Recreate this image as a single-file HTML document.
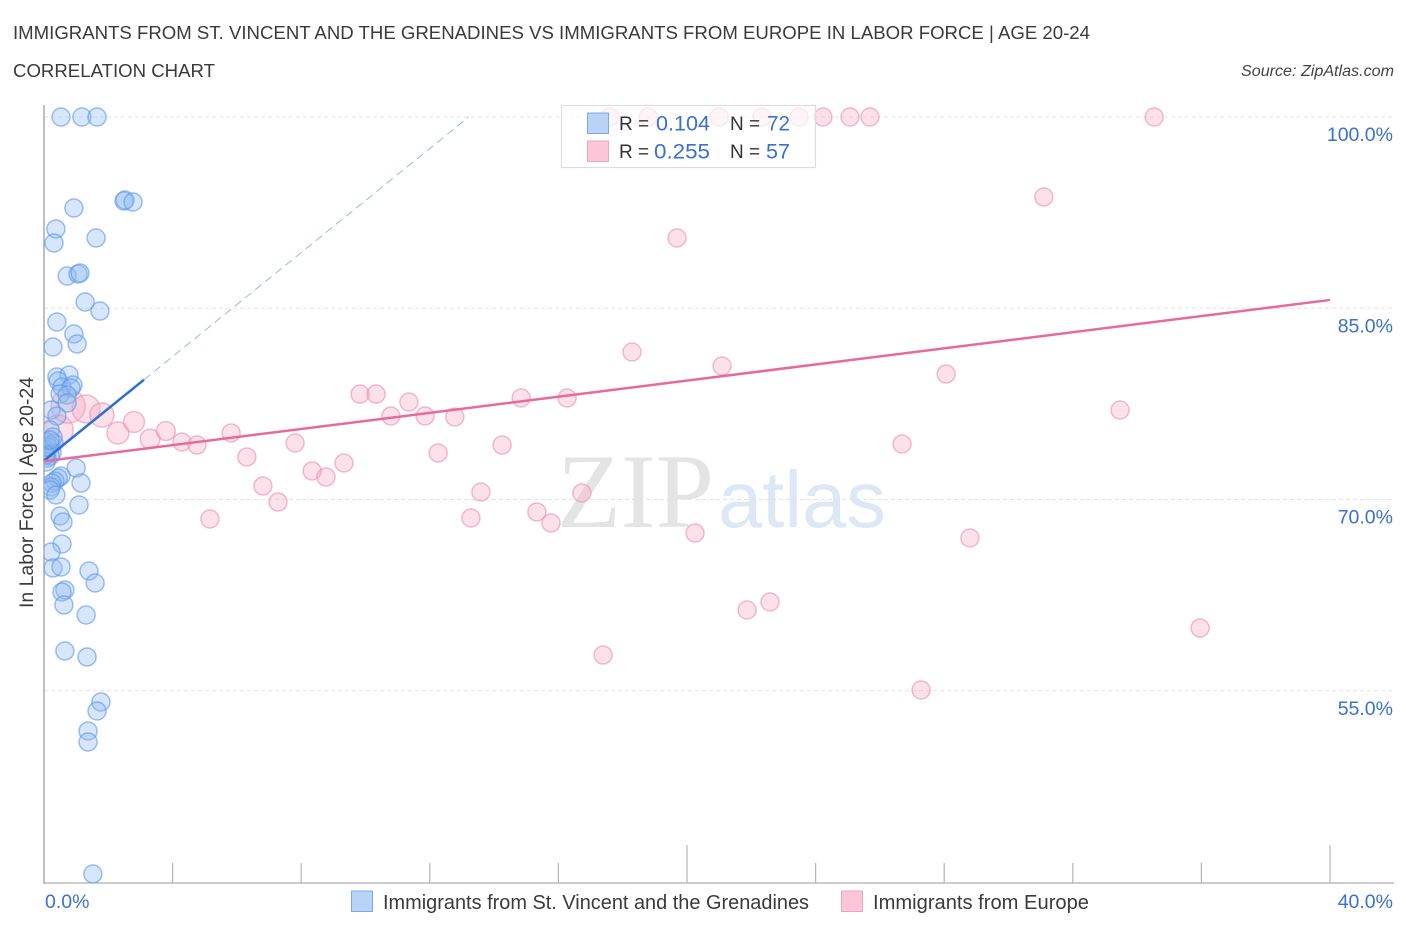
<!DOCTYPE html>
<html lang="en">
<head>
<meta charset="utf-8">
<title>Correlation Chart</title>
<style>
html,body{margin:0;padding:0;background:#fff;width:1406px;height:930px;overflow:hidden}
svg{display:block;font-family:"Liberation Sans",sans-serif}
</style>
</head>
<body>
<svg id="chart" xmlns="http://www.w3.org/2000/svg" width="1406" height="930" viewBox="0 0 1406 930">
  <defs>
    <clipPath id="plot-clip"><rect x="44" y="100" width="1350" height="783"/></clipPath>
  </defs>
  <rect x="0" y="0" width="1406" height="930" fill="#ffffff"/>
  <text x="13" y="39" font-size="18.5" fill="#3a3a3a" textLength="1077" lengthAdjust="spacingAndGlyphs">IMMIGRANTS FROM ST. VINCENT AND THE GRENADINES VS IMMIGRANTS FROM EUROPE IN LABOR FORCE | AGE 20-24</text>
  <text x="13" y="77" font-size="18.5" fill="#3a3a3a" textLength="202" lengthAdjust="spacingAndGlyphs">CORRELATION CHART</text>
  <text x="1241" y="76" font-size="15.5" font-style="italic" fill="#444444" textLength="153" lengthAdjust="spacingAndGlyphs">Source: ZipAtlas.com</text>
  <text x="557" y="527" font-family="'Liberation Serif',serif" font-size="106" fill="#e4e4e4" textLength="157" lengthAdjust="spacingAndGlyphs">ZIP</text>
  <text x="718" y="527" font-size="80" fill="#dde8f7" textLength="168" lengthAdjust="spacingAndGlyphs">atlas</text>
  <g id="grid"></g>
  <g id="axes"></g>
  <g id="pink-points" clip-path="url(#plot-clip)"></g>
  <g id="blue-points" clip-path="url(#plot-clip)"></g>
  <g id="trends"></g>
  <g id="labels"></g>
  <text transform="translate(33,608) rotate(-90)" font-size="19" fill="#3a3a3a" textLength="231" lengthAdjust="spacingAndGlyphs">In Labor Force | Age 20-24</text>

  <g>
    <rect x="561.5" y="105.5" width="254" height="62" fill="#ffffff" fill-opacity="0.68" stroke="#dddddd" stroke-width="1.2"/>
    <rect x="587.5" y="113" width="21" height="20.5" fill="#b9d3f8" stroke="#7ea8e0" stroke-width="1"/>
    <rect x="587.5" y="141" width="21" height="20.5" fill="#fcc5d8" stroke="#eda6c0" stroke-width="1"/>
    <text x="619" y="130" font-size="19" fill="#333333">R =</text>
    <text x="656" y="130.5" font-size="21" fill="#3a70d0" textLength="54" lengthAdjust="spacingAndGlyphs">0.104</text>
    <text x="730" y="130" font-size="19" fill="#333333">N =</text>
    <text x="767" y="130.5" font-size="21" fill="#3a70d0" textLength="23" lengthAdjust="spacingAndGlyphs">72</text>
    <text x="619" y="158" font-size="19" fill="#333333">R =</text>
    <text x="654" y="158.5" font-size="21" fill="#3a70d0" textLength="56" lengthAdjust="spacingAndGlyphs">0.255</text>
    <text x="730" y="158" font-size="19" fill="#333333">N =</text>
    <text x="766" y="158.5" font-size="21" fill="#3a70d0" textLength="24" lengthAdjust="spacingAndGlyphs">57</text>
  </g>

  <g>
    <rect x="351.5" y="891" width="21" height="20.5" fill="#b9d3f8" stroke="#7ea8e0" stroke-width="1"/>
    <text x="383" y="909" font-size="20" fill="#3a3a3a" textLength="426" lengthAdjust="spacingAndGlyphs">Immigrants from St. Vincent and the Grenadines</text>
    <rect x="841.5" y="891" width="21" height="20.5" fill="#fcc5d8" stroke="#eda6c0" stroke-width="1"/>
    <text x="873" y="909" font-size="20" fill="#3a3a3a" textLength="216" lengthAdjust="spacingAndGlyphs">Immigrants from Europe</text>
  </g>
</svg>

<script>
// Percent values
const yTicks = [100, 85, 70, 55];
const yTickLabels = ['100.0%', '85.0%', '70.0%', '55.0%'];
const xTicks = [4, 8, 12, 16, 20, 24, 28, 32, 36, 40];
const xMajorTicks = [20, 40];
const xEndLabels = ['0.0%', '40.0%'];

// [x %, y %]
const vincentPoints = [
  [0.53,100],[1.18,100],[1.65,100],
  [0.93,92.86],[2.49,93.41],[2.52,93.49],[2.77,93.33],
  [0.37,91.22],[0.31,90.12],[1.62,90.51],
  [0.72,87.53],[1.06,87.69],[1.12,87.76],
  [1.28,85.49],[1.74,84.78],[0.40,83.92],[0.93,82.98],[1.03,82.2],[0.28,81.96],
  [0.40,79.61],[0.78,79.76],[0.44,79.29],[0.56,78.82],[0.90,78.98],[0.84,78.75],[0.50,78.27],[0.72,78.2],[0.72,77.57],
  [0.22,77.02],[0.40,76.55],
  [0.19,75.45],[0.09,74.51],[0.31,74.43],[0.19,74.27],[0.06,73.88],[0.25,73.65],[0.19,73.41],[0.09,73.25],[0.06,72.94],
  [0.12,74.12],[0.28,74.9],[0.06,73.49],[0.19,74.67],
  [1.0,72.47],[0.53,71.84],[0.44,71.69],[1.15,71.29],[0.34,71.45],[0.25,71.29],[0.22,70.98],[0.19,70.75],[0.37,70.35],[1.09,69.57],
  [0.50,68.71],[0.59,68.24],[0.56,66.51],[0.22,65.88],[0.28,64.63],[0.53,64.71],[1.40,64.39],[1.59,63.45],
  [0.65,62.9],[0.56,62.75],[0.62,61.73],[1.31,60.94],[0.65,58.12],[1.34,57.65],
  [1.77,54.12],[1.65,53.41],[1.37,51.84],[1.37,50.98],[1.52,40.63]
];

// [x %, y %, relative population]
const europePoints = [
  [17.6,100,1],[18.79,100,1],[21.0,100,1],[22.33,100,1],[23.48,100,1],[24.23,100,1],[25.07,100,1],[25.69,100,1],[34.53,100,1],
  [31.1,93.73,1],[19.69,90.51,1],[18.29,81.57,1],[21.09,80.47,1],[28.06,79.84,1],
  [9.83,78.27,1],[10.33,78.27,1],[11.35,77.65,1],[10.79,76.55,1],[11.85,76.55,1],[12.78,76.47,1],
  [14.84,77.96,1],[16.27,77.96,1],[33.47,77.02,1],
  [5.82,75.22,1],[7.81,74.43,1],[6.31,73.33,1],[14.25,74.27,1],[12.26,73.65,1],[26.69,74.35,1],
  [9.33,72.86,1],[8.34,72.24,1],[8.77,71.76,1],[6.81,71.06,1],[7.28,69.8,1],
  [13.59,70.59,1],[16.73,70.51,1],[5.16,68.47,1],[13.28,68.55,1],[15.33,69.02,1],[15.77,68.16,1],
  [20.25,67.37,1],[28.8,66.98,1],[22.58,61.96,1],[21.87,61.33,1],[35.96,59.92,1],[17.39,57.8,1],[27.28,55.06,1],
  [0.44,75.45,2.8],[0.75,77.33,3.6],[1.31,77.1,2.4],[1.80,76.63,1.8],[2.30,75.22,1.5],[2.80,76.08,1.35],
  [3.30,74.75,1.2],[3.79,75.37,1.1],[4.29,74.51,1],[4.76,74.27,1]
];

// Trend lines: intercept at 0 %, slope per x %, solid extent, optional dashed extent
const vincentTrend = { intercept: 73.05, slope: 2.04, solidEnd: 3.11, dashEnd: 13.2 };
const europeTrend = { intercept: 73.0, slope: 0.3163, solidEnd: 40 };

const NS = 'http://www.w3.org/2000/svg';
const xScale = v => 44 + v * 32.15;
const yScale = v => 117 + (100 - v) * 12.75;
const radius = p => 9 * Math.sqrt(p);
const make = (tag, attrs, parent) => {
  const el = document.createElementNS(NS, tag);
  for (const k in attrs) el.setAttribute(k, attrs[k]);
  parent.appendChild(el);
  return el;
};

const grid = document.getElementById('grid');
const axes = document.getElementById('axes');
const labels = document.getElementById('labels');
const pinkLayer = document.getElementById('pink-points');
const blueLayer = document.getElementById('blue-points');
const trends = document.getElementById('trends');

yTicks.forEach((t, i) => {
  const line = make('line', { x1: 44, x2: 1394, y1: yScale(t), y2: yScale(t), stroke: '#e3e3e3', 'stroke-width': 1, 'stroke-dasharray': '4 3' }, grid);
  
  
  const label = make('text', { x: 1393, y: yScale(t) + 24, 'text-anchor': 'end', 'font-size': 19.5, fill: '#3a70d0' }, labels);
  
  
  label.textContent = yTickLabels[i];
});

const yAxis = make('line', { x1: 44, x2: 44, y1: 105, y2: 884, stroke: '#aaaaaa', 'stroke-width': 1.5 }, axes);


const xAxis = make('line', { x1: 44, x2: 1394, y1: 883, y2: 883, stroke: '#bbbbbb', 'stroke-width': 1.5 }, axes);



xTicks.forEach(t => {
  const top = xMajorTicks.includes(t) ? 845 : 863;
  const tick = make('line', { x1: xScale(t), x2: xScale(t), y1: top, y2: 883, stroke: '#b5b5b5', 'stroke-width': 1.2 }, axes);
  
  
});

const xLabelStart = make('text', { x: 45, y: 908, 'font-size': 19.5, fill: '#3a70d0' }, labels);


xLabelStart.textContent = xEndLabels[0];
const xLabelEnd = make('text', { x: 1393, y: 908, 'text-anchor': 'end', 'font-size': 19.5, fill: '#3a70d0' }, labels);


xLabelEnd.textContent = xEndLabels[1];

europePoints.forEach(d => {
  const c = make('circle', { cx: xScale(d[0]), cy: yScale(d[1]), r: radius(d[2]), fill: '#f7a8c4', 'fill-opacity': 0.36, stroke: '#ea8fb0', 'stroke-opacity': 0.6, 'stroke-width': 1.5 }, pinkLayer);
  
  
});

vincentPoints.forEach(d => {
  const c = make('circle', { cx: xScale(d[0]), cy: yScale(d[1]), r: radius(1), fill: '#8fbaf0', 'fill-opacity': 0.36, stroke: '#5f9ae6', 'stroke-opacity': 0.62, 'stroke-width': 1.5 }, blueLayer);
  
  
});

const trendY = (tr, x) => yScale(tr.intercept + tr.slope * x);
const blueSolid = make('line', { x1: xScale(0), y1: trendY(vincentTrend, 0), x2: xScale(vincentTrend.solidEnd), y2: trendY(vincentTrend, vincentTrend.solidEnd), stroke: '#2e6fd3', 'stroke-width': 2.5 }, trends);


const blueDash = make('line', { x1: xScale(vincentTrend.solidEnd), y1: trendY(vincentTrend, vincentTrend.solidEnd), x2: xScale(vincentTrend.dashEnd), y2: trendY(vincentTrend, vincentTrend.dashEnd), stroke: '#8fb2dc', 'stroke-width': 0.9, 'stroke-dasharray': '8 5' }, trends);


const pinkSolid = make('line', { x1: xScale(0), y1: trendY(europeTrend, 0), x2: xScale(europeTrend.solidEnd), y2: trendY(europeTrend, europeTrend.solidEnd), stroke: '#e86a9a', 'stroke-width': 2.5 }, trends);


</script>
</body>
</html>
